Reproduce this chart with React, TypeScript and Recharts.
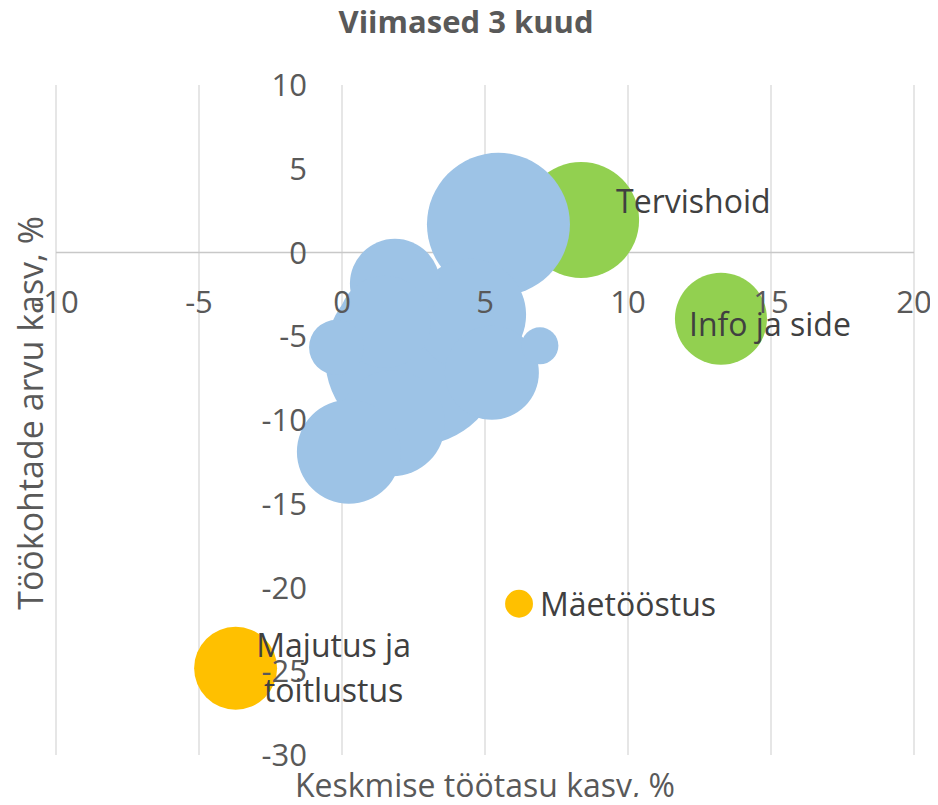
import React from 'react';
import {
  ScatterChart, Scatter, XAxis, YAxis, ZAxis, CartesianGrid, ReferenceLine,
} from 'recharts';

// ---- data ----
const xTicks = [-10, -5, 0, 5, 10, 15, 20];
const yTicks = [-30, -25, -20, -15, -10, -5, 0, 5, 10];

const otherX = [2.52, 5.47, 4.48, 1.85, 1.75, 0.24, 5.24, 1.5, -0.19, 6.92];
const otherY = [-6.23, 1.68, -3.72, -1.87, -10.2, -11.9, -7.18, -4.14, -5.66, -5.57];
const otherSize = [110, 71, 43.5, 28.1, 39, 37.5, 30.7, 29.4, 10.5, 4.75];

const greenNames = ['Tervishoid', 'Info ja side'];
const greenX = [8.36, 13.25];
const greenY = [1.94, -3.96];
const greenSize = [46.7, 29.4];

const yellowNames = ['Mäetööstus', 'Majutus ja toitlustus'];
const yellowX = [6.19, -3.72];
const yellowY = [-20.97, -24.82];
const yellowSize = [2.7, 23.9];

const title = 'Viimased 3 kuud';
const xTitle = 'Keskmise töötasu kasv, %';
const yTitle = 'Töökohtade arvu kasv, %';

// ---- layout / style ----
const W = 930;
const H = 789;
const M = { top: 77, right: 24, bottom: 41, left: 47 };
const AXIS_W = 1;
const PLOT_LEFT = M.left + AXIS_W;
const PLOT_W = W - PLOT_LEFT - M.right;
const PLOT_H = H - M.top - M.bottom - AXIS_W;
const X_MIN = -10, X_MAX = 20, Y_MIN = -30, Y_MAX = 10;
const X0_PX = PLOT_LEFT + (PLOT_W * (0 - X_MIN)) / (X_MAX - X_MIN);
const Y0_PX = M.top + (PLOT_H * (Y_MAX - 0)) / (Y_MAX - Y_MIN);
const FONT = '"Open Sans", sans-serif';
const FS = 31;
const LFS = 32;
const TICK_COLOR = '#595959';
const LABEL_COLOR = '#404040';
const MAX_R = 89;
const SIZE_MAX = 110;

const LABEL_STYLE: Record<string, { dx: number; dy: number; anchor: 'start' | 'middle' | 'end'; lines: string[]; lineGap?: number }> = {
  'Tervishoid': { dx: 35, dy: -7, anchor: 'start', lines: ['Tervishoid'] },
  'Info ja side': { dx: -32, dy: 17, anchor: 'start', lines: ['Info ja side'] },
  'Mäetööstus': { dx: 21, dy: 12, anchor: 'start', lines: ['Mäetööstus'] },
  'Majutus ja toitlustus': { dx: 98, dy: -11.5, anchor: 'middle', lines: ['Majutus ja', 'toitlustus'], lineGap: 45 },
};

const build = (xs: number[], ys: number[], zs: number[], names?: string[]) =>
  xs.map((x, i) => ({ x, y: ys[i], z: zs[i], name: names ? names[i] : '' }));

const otherData = build(otherX, otherY, otherSize);
const greenData = build(greenX, greenY, greenSize, greenNames);
const yellowData = build(yellowX, yellowY, yellowSize, yellowNames);
const labelData = [...greenData, ...yellowData];

const XTick = (props: any) => {
  const { x, payload } = props;
  return (
    <text x={x} y={Y0_PX + 49} dy="0.36em" textAnchor="middle" fill={TICK_COLOR}
      fontFamily={FONT} fontSize={FS}>{payload.value}</text>
  );
};

const YTick = (props: any) => {
  const { y, payload } = props;
  return (
    <text x={X0_PX - 35} y={y} dy="0.36em" textAnchor="end" fill={TICK_COLOR}
      fontFamily={FONT} fontSize={FS}>{payload.value}</text>
  );
};

const LabelShape = (props: any) => {
  const { cx, cy, payload } = props;
  const st = LABEL_STYLE[payload.name];
  if (!st) return <g />;
  return (
    <text x={cx + st.dx} y={cy + st.dy} textAnchor={st.anchor} fill={LABEL_COLOR}
      fontFamily={FONT} fontSize={LFS}>
      {st.lines.map((l, i) => (
        <tspan key={i} x={cx + st.dx} dy={i === 0 ? 0 : st.lineGap}>{l}</tspan>
      ))}
    </text>
  );
};

export default function App() {
  return (
    <div style={{ position: 'relative', width: W, height: H }}>
      <ScatterChart width={W} height={H} margin={M} style={{ overflow: 'visible' }}>
        <CartesianGrid horizontal={false} stroke="#D9D9D9" strokeWidth={1.3} />
        <ReferenceLine y={0} stroke="#C8C8C8" strokeWidth={1.6} />
        <ZAxis type="number" dataKey="z" domain={[0, SIZE_MAX]} range={[0, Math.PI * MAX_R * MAX_R]} />
        <Scatter data={yellowData} fill="#FFC000" isAnimationActive={false} />
        <Scatter data={greenData} fill="#92D050" isAnimationActive={false} />
        <Scatter data={otherData} fill="#9DC3E6" isAnimationActive={false} />
        <XAxis type="number" dataKey="x" domain={[X_MIN, X_MAX]} ticks={xTicks} interval={0}
          height={AXIS_W} axisLine={false} tickLine={false} tick={<XTick />} allowDataOverflow zIndex={700} />
        <YAxis type="number" dataKey="y" domain={[Y_MIN, Y_MAX]} ticks={yTicks} interval={0}
          width={AXIS_W} axisLine={false} tickLine={false} tick={<YTick />} allowDataOverflow zIndex={700} />
        <Scatter data={labelData} shape={<LabelShape />} isAnimationActive={false} zIndex={800} />
      </ScatterChart>
      <svg width={W} height={H} style={{ position: 'absolute', left: 0, top: 0, pointerEvents: 'none', overflow: 'visible' }}>
        <text x={458} y={25} textAnchor="middle" fill={TICK_COLOR} fontFamily={FONT} fontSize={FS} fontWeight="bold">{title}</text>
        <text x={477} y={789} textAnchor="middle" fill={TICK_COLOR} fontFamily={FONT} fontSize={32}>{xTitle}</text>
        <text x={35} y={405} textAnchor="middle" fill={TICK_COLOR} fontFamily={FONT} fontSize={34}
          transform="rotate(-90 35 405)">{yTitle}</text>
      </svg>
    </div>
  );
}
